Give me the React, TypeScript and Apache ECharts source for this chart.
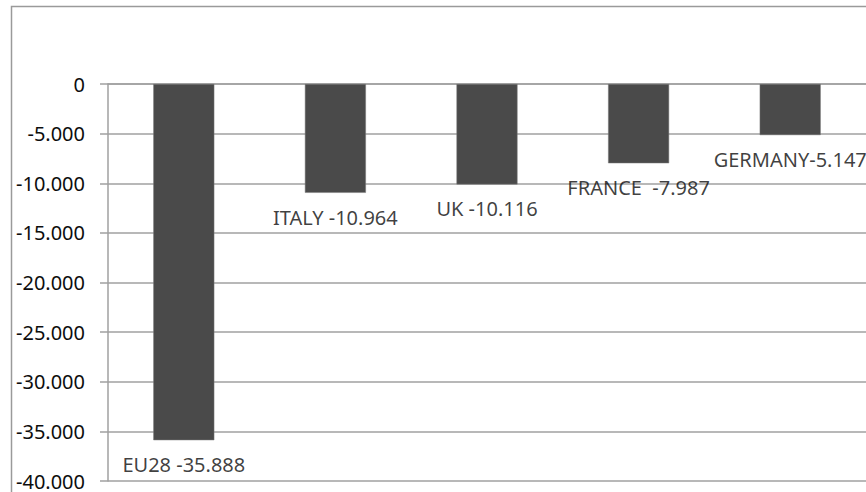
import React, { useEffect, useRef } from "react";
import * as echarts from "echarts";

const categories = ["EU28", "ITALY", "UK", "FRANCE", "GERMANY"];
const values = [-35888, -10964, -10116, -7987, -5147];
const labelGaps = [" ", " ", " ", "  ", ""];
const yMin = -40000;
const yMax = 0;
const yStep = 5000;

function fmtThousands(v: number): string {
  if (v === 0) return "0";
  const neg = v < 0;
  const s = Math.abs(Math.round(v)).toString().replace(/\B(?=(\d{3})+(?!\d))/g, ".");
  return (neg ? "-" : "") + s;
}

export default function App() {
  const ref = useRef<HTMLDivElement>(null);
  useEffect(() => {
    if (!ref.current) return;
    const chart = echarts.init(ref.current, undefined, { renderer: "svg" });
    const font = "'Noto Sans', 'Open Sans', sans-serif";
    chart.setOption({
      animation: false,
      backgroundColor: "#ffffff",
      graphic: [
        {
          type: "rect",
          shape: { x: 11.5, y: 6.5, width: 900, height: 600 },
          style: { fill: "none", stroke: "#9a9a9a", lineWidth: 1.5 },
          silent: true,
          z: -10,
        },
      ],
      grid: { left: 108, top: 84, width: 770, height: 397 },
      xAxis: {
        type: "category",
        data: categories,
        axisLine: { show: true, lineStyle: { color: "#a0a0a0", width: 1.5 } },
        axisTick: { show: false },
        axisLabel: { show: false },
        splitLine: { show: false },
      },
      yAxis: {
        type: "value",
        min: yMin,
        max: yMax,
        interval: yStep,
        axisLine: { show: true, lineStyle: { color: "#a0a0a0", width: 1.5 } },
        axisTick: { show: true, length: 8, lineStyle: { color: "#a0a0a0", width: 1.5 } },
        splitLine: { show: true, lineStyle: { color: "#a0a0a0", width: 1.5 } },
        axisLabel: {
          margin: 23,
          color: "#0d0d0d",
          fontFamily: font,
          fontSize: 20,
          lineHeight: 17,
          formatter: (v: number) => fmtThousands(v),
        },
      },
      series: [
        {
          type: "bar",
          data: values,
          barWidth: 61,
          itemStyle: { color: "#4a4a4a", borderColor: "#7a7a7a", borderWidth: 0.5 },
        },
        {
          type: "scatter",
          data: values.map((v, i) => [i, v]),
          symbolSize: 1,
          itemStyle: { color: "rgba(0,0,0,0)" },
          silent: true,
          label: {
            show: true,
            position: "bottom",
            distance: 14,
            color: "#0d0d0d",
            fontFamily: font,
            fontSize: 20,
            formatter: (p: any) =>
              `${categories[p.dataIndex]}${labelGaps[p.dataIndex]}${fmtThousands(values[p.dataIndex])}`,
          },
        },
      ],
    });
    return () => chart.dispose();
  }, []);
  return (
    <div
      ref={ref}
      style={{ position: "absolute", left: 0, top: 0, width: 866, height: 492 }}
    />
  );
}
